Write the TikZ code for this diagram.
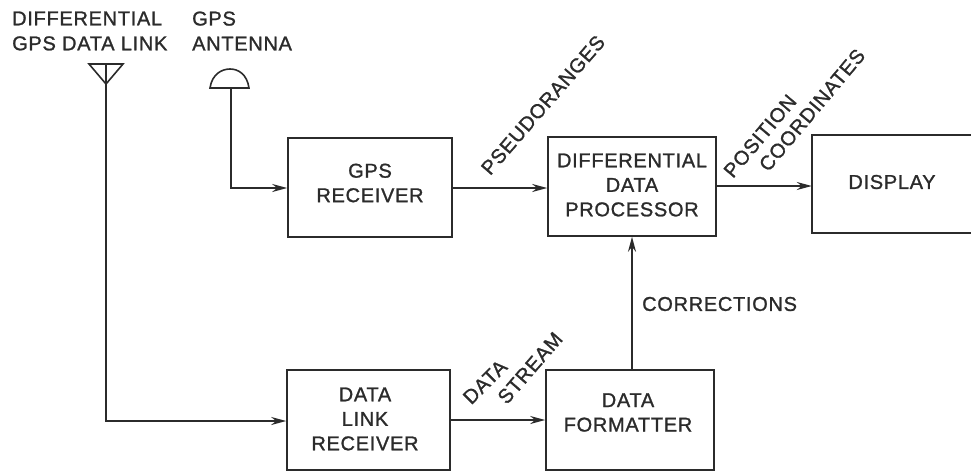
\documentclass[tikz,border=0pt]{standalone}
\usepackage{fontspec}
\setmainfont[LetterSpace=3.5,FakeBold=1.2]{Liberation Sans}
\usetikzlibrary{arrows.meta}
\definecolor{ink}{HTML}{2B2B2B}
\tikzset{x=1pt,y=-1pt,
 blockbox/.style={draw=ink,line width=1.6pt,align=center,inner sep=0pt},
 openbox/.style={inner sep=0pt},
 blocktext/.style={text=ink,font=\fontsize{20}{24.5}\selectfont,align=center,inner sep=0pt},
 lab/.style={text=ink,font=\fontsize{20}{25}\selectfont,align=left,inner sep=0pt},
 conn/.style={draw=ink,line width=1.9pt,-{Stealth[length=15pt,width=8pt]}},
 plain/.style={draw=ink,line width=1.6pt}}
\begin{document}
\begin{tikzpicture}
\useasboundingbox (0,0) rectangle (971,471);
\node[blockbox,minimum width=164pt,minimum height=99pt] (gps) at (370,187.5) {};
\node[blockbox,minimum width=168pt,minimum height=99pt] (ddp) at (632,186.5) {};
\node[openbox,minimum width=159pt,minimum height=98pt] (disp) at (891.5,184) {};
\draw[plain] (disp.north east) -- (disp.north west) -- (disp.south west) -- (disp.south east);
\node[blockbox,minimum width=163pt,minimum height=100pt] (dlr) at (368.5,420) {};
\node[blockbox,minimum width=168pt,minimum height=100pt] (fmt) at (630,420) {};
\node[blocktext] at (370,183) {GPS\\RECEIVER};
\node[blocktext] at (632,185) {DIFFERENTIAL\\DATA\\PROCESSOR};
\node[blocktext] at (892,182) {DISPLAY};
\node[blocktext] at (365,419) {DATA\\LINK\\RECEIVER};
\node[blocktext] at (628,412.5) {DATA\\FORMATTER};
\node[lab,anchor=west] (l1) at (12,31) {DIFFERENTIAL\\GPS DATA LINK};
\node[lab,anchor=west] (l2) at (192,31) {GPS\\ANTENNA};
\coordinate (t1) at (89,64); \coordinate (t2) at (123,64); \coordinate (t3) at (106,84);
\draw[plain] (t1) -- (t2) -- (t3) -- cycle;
\coordinate (t0) at (106,64);
\draw[plain] (210,88) .. controls (212,74) and (222,69) .. (230,69) .. controls (238,69) and (247,74) .. (249,88) -- cycle;
\coordinate (a0) at (231,88); \coordinate (a1) at (231,188); \coordinate (b1) at (106,421);
\draw[conn] (a0) -- (a1) -- (gps.west|-a1);
\draw[conn] (t0) -- (b1) -- (dlr.west|-b1);
\coordinate (g) at (0,188); \coordinate (d) at (0,186);
\draw[conn] (gps.east|-g) -- (ddp.west|-g);
\draw[conn] (ddp.east|-d) -- (disp.west|-d);
\draw[conn] (dlr.east) -- (fmt.west);
\draw[conn] (fmt.north-|632,0) -- (ddp.south-|632,0);
\node[lab,rotate=49] (p) at (543,105) {PSEUDORANGES};
\node[lab,rotate=50] (pc1) at (760,136) {POSITION};
\node[lab,rotate=50] (pc2) at (812,110) {COORDINATES};
\node[lab,rotate=45] (ds1) at (485,382) {DATA};
\node[lab,rotate=49] (ds2) at (530,368) {STREAM};
\node[lab,anchor=west] (c) at (642,304) {CORRECTIONS};
\end{tikzpicture}
\end{document}
